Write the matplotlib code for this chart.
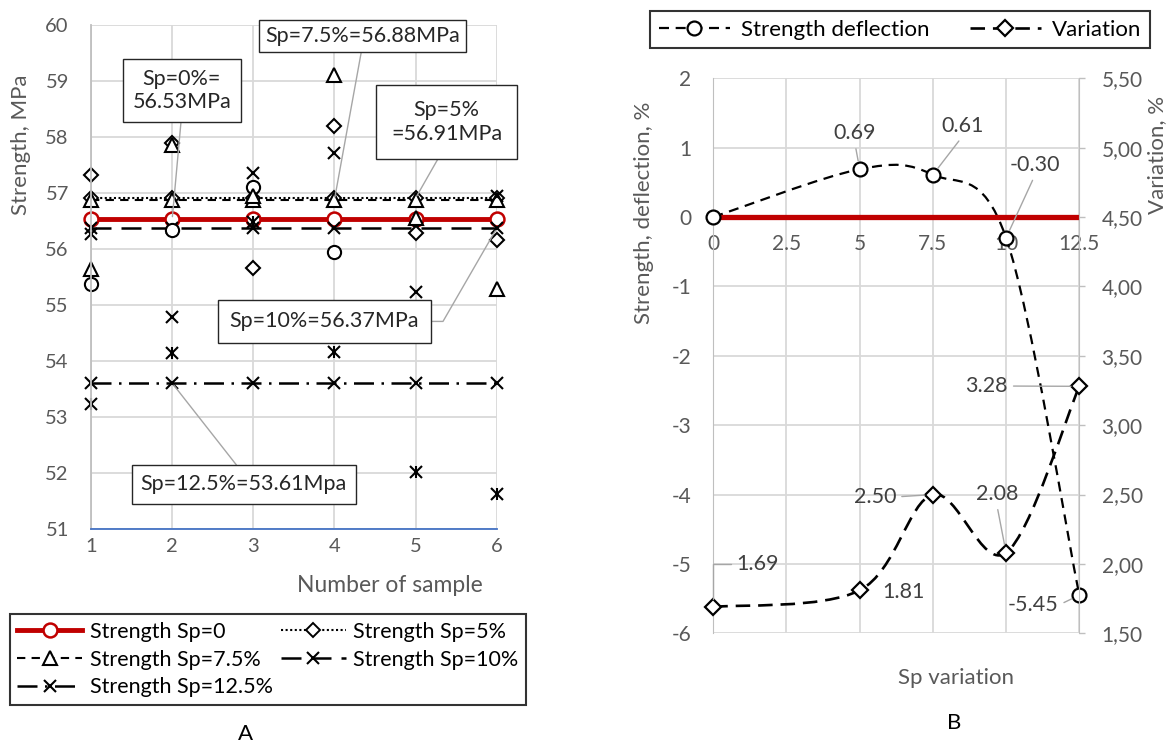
import numpy as np
import matplotlib
matplotlib.use('Agg')
import matplotlib.pyplot as plt
from matplotlib.path import Path
from matplotlib.patches import PathPatch
from matplotlib.lines import Line2D
from matplotlib.ticker import FuncFormatter

plt.rcParams['font.family'] = ['Lato', 'DejaVu Sans']
plt.rcParams['axes.unicode_minus'] = False

# %% data, chart A (strength of each sample)
samples = [1, 2, 3, 4, 5, 6]
mean_sp0 = 56.53
mean_sp5 = 56.91
mean_sp75 = 56.88
mean_sp10 = 56.37
mean_sp125 = 53.61
pts_sp0 = [55.37, 56.35, 57.10, 55.94, np.nan, np.nan]
pts_sp5 = [57.32, 57.90, 55.66, 58.19, 56.29, 56.17]
pts_sp75 = [55.65, 57.85, 56.95, 59.10, 56.55, 55.28]
pts_sp10 = [56.27, 54.79, 57.36, 57.72, 55.24, 56.95]
pts_sp125 = [53.24, 54.15, 56.48, 54.17, 52.03, 51.63]

# %% data, chart B
sp = [0, 5, 7.5, 10, 12.5]
sp_ticks = [0, 2.5, 5, 7.5, 10, 12.5]
sp_ticklabels = ['0', '2.5', '5', '7.5', '10', '12.5']
deflection = [0, 0.69, 0.61, -0.30, -5.45]
variation = [1.69, 1.81, 2.50, 2.08, 3.28]
zero_x = [0, 12.5]
zero_y = [0, 0]

RED = '#C00000'
GRID = '#D9D9D9'
TXT = '#595959'
LBL = '#404040'
LEAD = '#A6A6A6'
TICK_FS = 14.5
TITLE_FS = 16


def excel_smooth(xs, ys):
	# bezier segments like Excel's "smoothed line"
	p = np.column_stack([xs, ys]).astype(float)
	n = len(p)
	verts, codes = [p[0]], [Path.MOVETO]
	for i in range(n - 1):
		p0 = p[i - 1] if i > 0 else p[i]
		p3 = p[i + 2] if i + 2 < n else p[i + 1]
		c1 = p[i] + (p[i + 1] - p0) / 6
		c2 = p[i + 1] - (p3 - p[i]) / 6
		verts += [c1, c2, p[i + 1]]
		codes += [Path.CURVE4] * 3
	return Path(verts, codes)


fig = plt.figure(figsize=(11.67, 7.42), dpi=100)
W, H = 1167, 742

# %% chart A
axA = fig.add_axes([91 / W, 1 - 529.3 / H, (496.7 - 91) / W, (529.3 - 25) / H])
axA.set_xlim(1, 6)
axA.set_ylim(51, 60)
axA.set_xticks(samples)
axA.set_yticks(range(51, 61))
axA.grid(color=GRID, lw=1.3)
axA.set_axisbelow(True)
axA.tick_params(length=0, labelsize=TICK_FS, colors=TXT)
axA.tick_params(axis='y', pad=16)
axA.tick_params(axis='x', pad=6)
for s in ['top', 'right']:
	axA.spines[s].set_visible(False)
axA.spines['left'].set_color('#BFBFBF')
axA.spines['left'].set_linewidth(1.3)
axA.spines['bottom'].set_color('#4472C4')
axA.spines['bottom'].set_linewidth(1.3)

h0, = axA.plot(samples, [mean_sp0] * 6, color=RED, lw=3.5, marker='o', ms=10,
			   mfc='white', mec=RED, mew=1.8, clip_on=False, label='Strength Sp=0')
h5, = axA.plot(samples, [mean_sp5] * 6, color='k', lw=1.5, ls=(0, (1, 1.2)), marker='D', ms=7,
			   mfc='white', mec='k', mew=1.4, clip_on=False, label='Strength Sp=5%')
h75, = axA.plot(samples, [mean_sp75] * 6, color='k', lw=1.5, ls=(0, (4, 3)), marker='^', ms=10,
				mfc='white', mec='k', mew=1.5, clip_on=False, label='Strength Sp=7.5%')
h10, = axA.plot(samples, [mean_sp10] * 6, color='k', lw=1.8, ls=(0, (8, 4)), marker='x', ms=9,
				mew=1.5, clip_on=False, label='Strength Sp=10%')
h125, = axA.plot(samples, [mean_sp125] * 6, color='k', lw=1.8, ls=(0, (8, 3, 1, 3)), marker='x', ms=9,
				 mew=1.5, clip_on=False, label='Strength Sp=12.5%')

pt = dict(ls='none', clip_on=False, mfc='white', mec='k', mew=1.5)
axA.plot(samples, pts_sp0, marker='o', ms=9.5, **pt)
axA.plot(samples, pts_sp5, marker='D', ms=7, **pt)
axA.plot(samples, pts_sp75, marker='^', ms=10, **pt)
axA.plot(samples, pts_sp10, marker='x', ms=9, **pt)
axA.plot(samples, pts_sp125, marker='x', ms=9, **pt)
axA.plot(samples, pts_sp125, marker='|', ms=9, **pt)

box = dict(boxstyle='square,pad=0.5', fc='white', ec='#262626', lw=1)
lead = dict(arrowstyle='-', color=LEAD, lw=1, shrinkA=0, shrinkB=2)


def note(ax, text, xy, xytext, pad, relpos, fs=15.5, **kw):
	b = dict(box, boxstyle=f'square,pad={pad}')
	a = dict(lead, relpos=relpos, **kw)
	ax.annotate(text, xy=xy, xytext=xytext, ha='center', va='center', fontsize=fs,
				color='#262626', bbox=b, arrowprops=a, multialignment='center',
				annotation_clip=False, zorder=6)


note(axA, f'Sp=0%=\n{mean_sp0:.2f}MPa', (2, mean_sp0), (2.12, 58.83), 0.45, (0.5, 0))
note(axA, f'Sp=7.5%={mean_sp75:.2f}MPa', (4, mean_sp75), (4.344, 59.80), 0.28, (0.5, 0))
note(axA, f'Sp=5%\n={mean_sp5:.2f}MPa', (5, mean_sp5), (5.384, 58.27), 0.7, (0.5, 0))
note(axA, f'Sp=10%={mean_sp10:.2f}MPa', (6, mean_sp10), (3.878, 54.71), 0.55, (1, 0.5),
	 connectionstyle='angle,angleA=0,angleB=60,rad=0')
note(axA, f'Sp=12.5%={mean_sp125:.2f}Mpa', (2, mean_sp125), (2.884, 51.80), 0.42, (0.5, 1))

fig.text(21 / W, 1 - 145 / H, 'Strength, MPa', rotation=90, ha='center', va='center',
		 fontsize=TITLE_FS, color=TXT)
fig.text(390 / W, 1 - 585 / H, 'Number of sample', ha='center', va='center',
		 fontsize=TITLE_FS + 0.5, color=TXT)
fig.text(245 / W, 1 - 734 / H, 'A', ha='center', va='center', fontsize=TITLE_FS, color='k')

legA = fig.legend(handles=[h0, h75, h125, h5, h10], loc='center',
				  bbox_to_anchor=(268 / W, 1 - 659.5 / H), ncol=2, fontsize=15.5,
				  handlelength=3.0, handletextpad=0.35, columnspacing=0.4,
				  labelspacing=0.35, borderpad=0.35, fancybox=False, edgecolor='k')
legA.get_frame().set_linewidth(1.5)

# %% chart B
axB = fig.add_axes([713.3 / W, 1 - 633.3 / H, (1079.3 - 713.3) / W, (633.3 - 78.3) / H])
axB.set_xlim(0, 12.5)
axB.set_ylim(-6, 2)
axB.set_xticks(sp_ticks)
axB.set_xticklabels(sp_ticklabels)
axB.set_yticks(range(-6, 3))
axB.grid(color=GRID, lw=1.3)
axB.set_axisbelow(True)
axB.spines['bottom'].set_position(('data', 0))
for s in ['top', 'bottom', 'right']:
	axB.spines[s].set_visible(False)
axB.spines['left'].set_color('#BFBFBF')
axB.tick_params(length=0, labelsize=TICK_FS + 0.5, colors=TXT)
axB.tick_params(axis='y', pad=16)
axB.tick_params(axis='x', pad=12)

axV = axB.twinx()
axV.set_ylim(1.5, 5.5)
axV.set_yticks(np.arange(1.5, 5.51, 0.5))
axV.yaxis.set_major_formatter(FuncFormatter(lambda v, _: f'{v:.2f}'.replace('.', ',')))
axV.tick_params(axis='y', length=4.5, width=1, color='#BFBFBF', labelsize=TICK_FS + 0.5,
				labelcolor=TXT, pad=11.5)
for s in ['top', 'bottom', 'left']:
	axV.spines[s].set_visible(False)
axV.spines['right'].set_color('#BFBFBF')

axB.add_patch(PathPatch(excel_smooth(sp, deflection), fill=False, ec='k', lw=1.6,
						ls=(0, (4.5, 3)), clip_on=False, zorder=2))
axB.plot(zero_x, zero_y, color=RED, lw=3.8, solid_capstyle='butt', zorder=3)
axB.plot(sp, deflection, ls='none', marker='o', ms=10, mfc='white', mec='k', mew=1.6,
		 clip_on=False, zorder=4)

axV.add_patch(PathPatch(excel_smooth(sp, variation), fill=False, ec='k', lw=1.9,
						ls=(0, (5.5, 3)), clip_on=False, zorder=2))
axV.plot(sp, variation, ls='none', marker='D', ms=8, mfc='white', mec='k', mew=1.6,
		 clip_on=False, zorder=4)


def dlabel(ax, text, xy, xytext, relpos=None, **kw):
	a = None
	if relpos is not None:
		a = dict(arrowstyle='-', color=LEAD, lw=1, shrinkA=2, shrinkB=6, relpos=relpos, **kw)
	ax.annotate(text, xy=xy, xytext=xytext, ha='center', va='center', fontsize=15.5,
				color=LBL, arrowprops=a, annotation_clip=False, zorder=6)


dlabel(axB, f'{deflection[1]:.2f}', (sp[1], deflection[1]), (4.836, 1.207), (0.5, 0))
dlabel(axB, f'{deflection[2]:.2f}', (sp[2], deflection[2]), (8.518, 1.312), (0.5, 0))
dlabel(axB, f'{deflection[3]:.2f}', (sp[3], deflection[3]), (10.987, 0.750), (0.5, 0))
dlabel(axB, f'{deflection[4]:.2f}', (sp[4], deflection[4]), (10.929, -5.594), (1, 0.5))
dlabel(axV, f'{variation[0]:.2f}', (sp[0], variation[0]), (1.503, 1.998), (0, 0.5),
	   connectionstyle='angle,angleA=180,angleB=90,rad=0')
dlabel(axV, f'{variation[1]:.2f}', (sp[1], variation[1]), (6.489, 1.798))
dlabel(axV, f'{variation[2]:.2f}', (sp[2], variation[2]), (5.523, 2.483), (1, 0.5))
dlabel(axV, f'{variation[3]:.2f}', (sp[3], variation[3]), (9.679, 2.503), (0.5, 0))
dlabel(axV, f'{variation[4]:.2f}', (sp[4], variation[4]), (9.338, 3.282), (1, 0.5))

fig.text(644 / W, 1 - 212.5 / H, 'Strength, deflection, %', rotation=90, ha='center',
		 va='center', fontsize=TITLE_FS, color=TXT)
fig.text(1157 / W, 1 - 155 / H, 'Variation, %', rotation=90, ha='center', va='center',
		 fontsize=TITLE_FS, color=TXT)
fig.text(956 / W, 1 - 678.3 / H, 'Sp variation', ha='center', va='center',
		 fontsize=TITLE_FS, color=TXT)
fig.text(954 / W, 1 - 722.7 / H, 'B', ha='center', va='center', fontsize=TITLE_FS, color='k')

hD = Line2D([], [], color='k', lw=1.6, ls=(0, (4.5, 3)), marker='o', ms=10, mfc='white', mec='k', mew=1.6)
hV = Line2D([], [], color='k', lw=1.9, ls=(0, (5.5, 3)), marker='D', ms=8, mfc='white', mec='k', mew=1.6)
legB = fig.legend([hD, hV], ['Strength deflection', 'Variation'], loc='center',
				  bbox_to_anchor=(900 / W, 1 - 29.5 / H), ncol=2, fontsize=16,
				  handlelength=3.2, handletextpad=0.5, columnspacing=1.8, borderpad=0.4,
				  fancybox=False, edgecolor='k')
legB.get_frame().set_linewidth(1.5)

fig.savefig('out.png', dpi=100)
